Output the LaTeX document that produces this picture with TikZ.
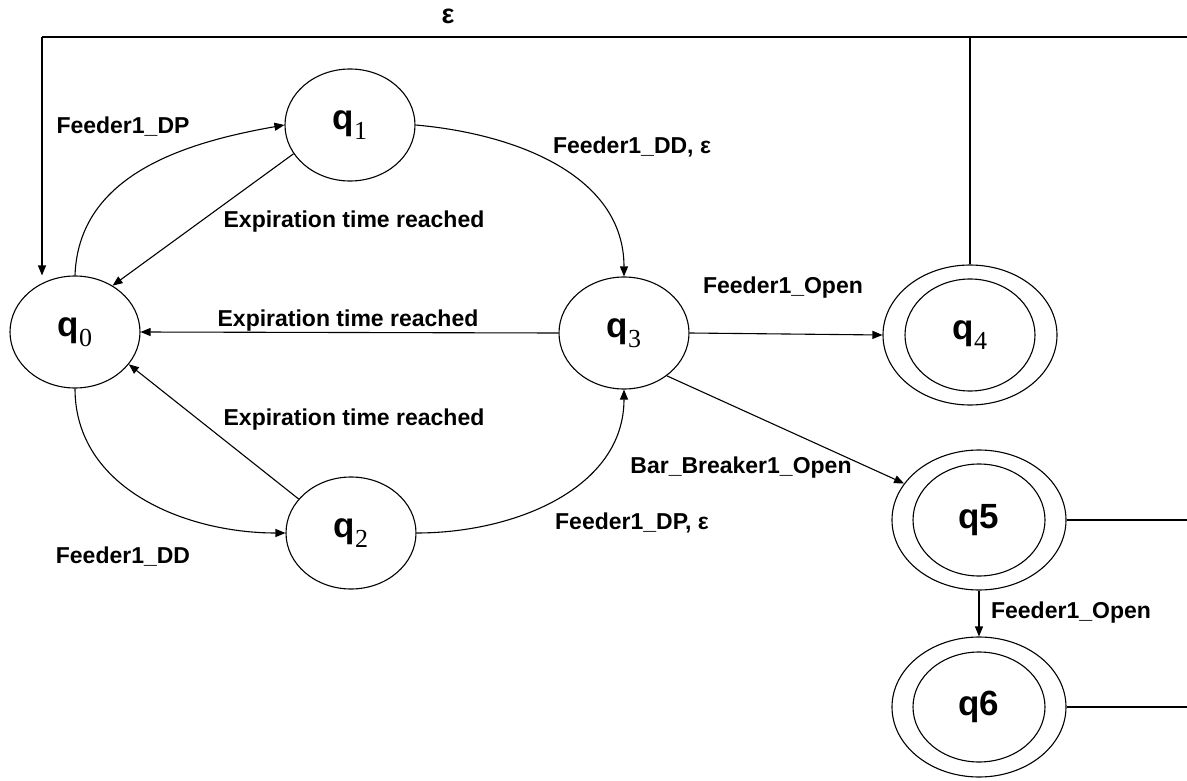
\documentclass[tikz,border=0pt]{standalone}
\usepackage{fontspec}
\setmainfont{Liberation Sans}
\newfontfamily\subfont{Liberation Serif}
\usetikzlibrary{arrows.meta,shapes.geometric}

\tikzset{
	state/.style={draw, ellipse, minimum width=130pt, minimum height=112pt, inner sep=0pt},
	final/.style={draw, ellipse, minimum width=174pt, minimum height=140pt, inner sep=0pt},
	lbl/.style={font=\bfseries\fontsize{23}{26}\selectfont, inner sep=0pt},
	arr/.style={-{Triangle[length=10pt,width=8pt]}},
}
\newcommand{\qsub}[1]{{\fontsize{35}{35}\selectfont\bfseries q}\raisebox{-10pt}{\subfont\fontsize{26}{26}\selectfont #1}}
\newcommand{\qbig}[1]{{\fontsize{35}{35}\selectfont\bfseries q#1}}

\begin{document}
\begin{tikzpicture}[x=1pt,y=-1pt,line width=1.1pt]
	\useasboundingbox (0,0) rectangle (1187,781);

		\node[state] (q0) at (75,332) {\qsub{0}};
		\node[state] (q1) at (350,125) {\qsub{1}};
		\node[state] (q2) at (351,533) {\qsub{2}};
		\node[state] (q3) at (624,333) {\qsub{3}};
		\node[final] (q4) at (970,335) {\qsub{4}};
		\node[final] (q5) at (979,520) {\qbig{5}};
		\node[final] (q6) at (979,707) {\qbig{6}};
		\draw (q4.center) ellipse [x radius=65, y radius=56];
		\draw (q5.center) ellipse [x radius=66, y radius=56];
		\draw (q6.center) ellipse [x radius=66, y radius=55];

		\coordinate (tl) at (42,37);
		\coordinate (tr) at (1195,37);
		\coordinate (r5) at (1195,522);
		\coordinate (r6) at (1195,711);

		\draw (tr) -- (tl);
		\draw[arr] (tl) -- (tl |- q0.north);
		\draw (q4.north) -- (q4.north |- tl);
		\draw (q5.east) -- (q5.east -| r5);
		\draw (q6.east) -- (q6.east -| r6);

		\draw[arr] (q0.north) to[out=88,in=190] (q1.west);
		\draw[arr] (q0.south) to[out=-90,in=180] (q2.west);
		\draw[arr] (q1.east) to[out=-5,in=90] (q3.north);
		\draw[arr] (q2.east) to[out=0,in=-90] (q3.south);
		\draw[arr] (q1.207) -- (q0.51);
		\draw[arr] (q2.147) -- (q0.329);
		\draw[arr] (q3.west) -- (q0.east);
		\draw[arr] (q3.east) -- (q4.west);
		\draw[arr] (q3.315) -- (q5.154);
		\draw[arr] (q5.south) -- (q6.north);

		\node[lbl,font=\bfseries\fontsize{27}{27}\selectfont] (eps) at (448,16) {ε};
		\node[lbl] (l01) at (123,127) {Feeder1\_DP};
		\node[lbl] (l10) at (354,222) {Expiration time reached};
		\node[lbl] (l13) at (632,147) {Feeder1\_DD, ε};
		\node[lbl] (l30) at (348,321) {Expiration time reached};
		\node[lbl] (l34) at (783,288) {Feeder1\_Open};
		\node[lbl] (l20) at (354,420) {Expiration time reached};
		\node[lbl] (l35) at (741,468) {Bar\_Breaker1\_Open};
		\node[lbl] (l23) at (632,523) {Feeder1\_DP, ε};
		\node[lbl] (l02) at (123,557) {Feeder1\_DD};
		\node[lbl] (l56) at (1071,613) {Feeder1\_Open};
	\end{tikzpicture}
\end{document}
